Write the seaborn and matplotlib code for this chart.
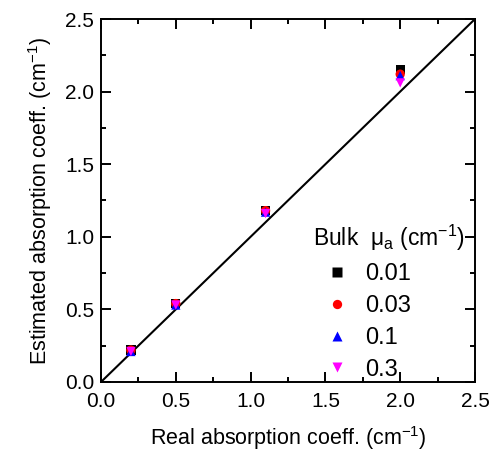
import matplotlib
matplotlib.use("Agg")
import matplotlib.pyplot as plt
import seaborn as sns
import pandas as pd
from matplotlib.ticker import MultipleLocator, FormatStrFormatter

real = [0.2, 0.5, 1.1, 2.0]
bulk_labels = ["0.01", "0.03", "0.1", "0.3"]
est_001 = [0.22, 0.54, 1.18, 2.15]
est_003 = [0.22, 0.54, 1.18, 2.12]
est_01 = [0.21, 0.53, 1.17, 2.11]
est_03 = [0.21, 0.53, 1.16, 2.06]
colors = ["black", "red", "blue", "magenta"]
markers = ["s", "o", "^", "v"]

rows = []
for lab, vals in zip(bulk_labels, [est_001, est_003, est_01, est_03]):
    for x, y in zip(real, vals):
        rows.append({"real": x, "est": y, "bulk": lab})
df = pd.DataFrame(rows)

plt.rcParams.update({
    'font.family': ['Liberation Sans', 'DejaVu Sans'],
    'mathtext.fontset': 'custom',
    'mathtext.rm': 'Liberation Sans',
    'mathtext.it': 'Liberation Sans',
    'axes.edgecolor': 'black',
    'axes.linewidth': 1.4,
})

fig = plt.figure(figsize=(4.91, 4.59), dpi=100)
ax = fig.add_axes([0.2057, 0.1678, 0.7617, 0.7908])

ax.plot([0, 2.5], [0, 2.5], color="black", lw=1.5, zorder=1)
sns.scatterplot(data=df, x="real", y="est", hue="bulk", style="bulk",
                palette=dict(zip(bulk_labels, colors)),
                markers=dict(zip(bulk_labels, markers)),
                hue_order=bulk_labels, style_order=bulk_labels,
                s=45, edgecolor="none", ax=ax, zorder=3)

ax.set_xlim(0, 2.5)
ax.set_ylim(0, 2.5)
ax.xaxis.set_major_locator(MultipleLocator(0.5))
ax.yaxis.set_major_locator(MultipleLocator(0.5))
ax.xaxis.set_minor_locator(MultipleLocator(0.25))
ax.yaxis.set_minor_locator(MultipleLocator(0.25))
ax.xaxis.set_major_formatter(FormatStrFormatter("%.1f"))
ax.yaxis.set_major_formatter(FormatStrFormatter("%.1f"))
ax.tick_params(which="both", direction="in", top=True, right=True,
               bottom=True, left=True, color="black")
ax.tick_params(which="major", length=7, width=1.4, labelsize=15)
ax.tick_params(which="minor", length=3.5, width=1.4)
ax.tick_params(axis="x", which="major", pad=7)
ax.tick_params(axis="y", which="major", pad=5)

ax.set_xlabel("Real absorption coeff. (cm$^{-1}$)", fontsize=15.5, labelpad=10)
ax.set_ylabel("Estimated absorption coeff. (cm$^{-1}$)", fontsize=15.5, labelpad=8)

leg = ax.legend(title="Bulk  \u03bc$_{a}$ (cm$^{-1}$)", loc="lower right",
                bbox_to_anchor=(1.03, -0.055), frameon=False, fontsize=17,
                title_fontsize=16.5, handletextpad=0.2, labelspacing=0.42,
                markerscale=1.0)
leg._legend_box.align = "left"

fig.savefig("out.png", dpi=100)
